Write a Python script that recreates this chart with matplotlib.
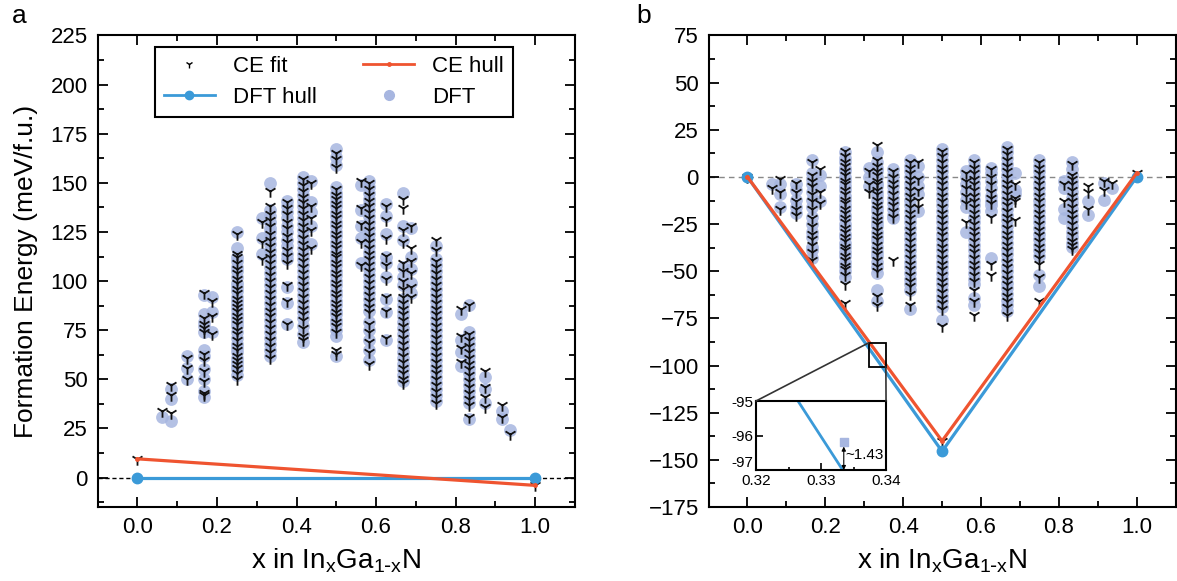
import numpy as np
import matplotlib
matplotlib.use("Agg")
import matplotlib.pyplot as plt
from matplotlib.lines import Line2D
from matplotlib.patches import Rectangle, ConnectionPatch
from matplotlib.ticker import MultipleLocator

# In_xGa_(1-x)N compositions enumerated by the cluster expansion
comps = [0.0625, 0.0833, 0.125, 0.1667, 0.1875, 0.25, 0.3125, 0.3333, 0.375,
         0.4167, 0.4375, 0.5, 0.5625, 0.5833, 0.625, 0.6667, 0.6875, 0.75,
         0.8125, 0.8333, 0.875, 0.9167, 0.9375]

# panel a: formation energies (meV/f.u.), one list per composition
a_dft = [
    [31],
    [45, 40, 29],
    [62, 56, 50],
    [93, 83, 79, 77, 74, 65, 62, 55, 50, 44, 41],
    [92, 84, 74],
    [125, 117, 112, 110, 107, 105, 102, 99, 97, 95, 92, 90, 88, 86, 83, 81, 79, 77, 74, 71, 68, 66, 64, 61, 59, 57, 55, 52],
    [132, 122, 114],
    [150, 136, 133, 130, 127, 125, 122, 119, 116, 113, 110, 107, 104, 101, 98, 95, 92, 89, 86, 83, 80, 77, 74, 71, 68, 65, 62],
    [141, 138, 135, 132, 128, 125, 121, 118, 114, 111, 97, 89, 78],
    [153, 150, 147, 144, 141, 138, 135, 132, 129, 126, 123, 120, 117, 114, 111, 108, 105, 102, 99, 96, 93, 90, 87, 84, 81, 77, 73, 69],
    [151, 140, 135, 128, 119],
    [167, 163, 159, 148, 145, 143, 140, 138, 135, 133, 130, 128, 125, 123, 120, 118, 115, 113, 110, 108, 105, 103, 100, 98, 95, 93, 90, 88, 85, 83, 80, 78, 75, 72, 62],
    [149, 136, 128, 122, 109],
    [151, 148, 145, 142, 139, 136, 133, 130, 127, 124, 121, 118, 115, 112, 109, 106, 103, 100, 97, 94, 91, 88, 85, 79, 75, 70, 65, 60],
    [139, 133, 124, 112, 109, 102, 91, 84, 70],
    [145, 128, 121, 107, 102, 98, 91, 88, 85, 82, 79, 76, 73, 70, 67, 64, 61, 58, 55, 52, 49],
    [127, 112, 106, 99, 94],
    [118, 111, 108, 105, 102, 99, 96, 93, 90, 87, 84, 81, 78, 75, 72, 69, 66, 63, 60, 57, 54, 51, 48, 45, 42, 39],
    [83, 70, 64, 57],
    [88, 74, 71, 68, 65, 62, 59, 56, 53, 50, 47, 44, 41, 38, 30],
    [51, 45, 38],
    [34, 30],
    [24],
]
a_ce = [
    [34],
    [47, 42, 33],
    [61, 56, 50],
    [94, 81, 78, 76, 74, 63, 60, 54, 49, 43, 42],
    [90, 82, 73],
    [124, 114, 112, 109, 106, 104, 101, 99, 96, 94, 91, 89, 87, 85, 82, 80, 78, 75, 73, 70, 67, 65, 62, 60, 58, 56, 53, 50],
    [130, 120, 111],
    [146, 138, 134, 131, 128, 124, 121, 118, 115, 112, 109, 106, 103, 100, 97, 94, 91, 88, 85, 82, 79, 76, 73, 70, 67, 64, 61],
    [140, 137, 134, 130, 127, 123, 120, 116, 113, 109, 98, 90, 78],
    [152, 149, 146, 143, 140, 137, 134, 131, 128, 125, 122, 119, 116, 113, 110, 107, 104, 101, 98, 95, 92, 89, 86, 83, 80, 76, 72, 70],
    [150, 138, 132, 126, 117],
    [165, 162, 158, 147, 144, 142, 139, 137, 134, 132, 129, 127, 124, 122, 119, 117, 114, 112, 109, 107, 104, 102, 99, 97, 94, 92, 89, 87, 84, 82, 79, 77, 74, 65, 63],
    [151, 137, 129, 120, 108],
    [150, 147, 144, 141, 138, 135, 132, 129, 126, 123, 120, 117, 114, 111, 108, 105, 102, 99, 96, 93, 90, 87, 84, 78, 74, 69, 64, 58],
    [138, 131, 122, 113, 108, 101, 92, 85, 71],
    [142, 137, 126, 120, 109, 105, 100, 96, 92, 89, 86, 83, 80, 77, 74, 71, 68, 65, 62, 59, 56, 53, 50, 48],
    [128, 117, 110, 104, 97, 92],
    [121, 116, 110, 107, 104, 101, 98, 95, 92, 89, 86, 83, 80, 77, 74, 71, 68, 65, 62, 59, 56, 53, 50, 47, 44, 41, 38],
    [86, 72, 66, 59],
    [88, 73, 70, 67, 64, 61, 58, 55, 52, 49, 46, 43, 40, 37, 31],
    [54, 46, 41, 36],
    [37, 31],
    [22],
]

# panel b: energies relative to the end members (meV/f.u.)
b_dft = [
    [-4],
    [-4, -9, -16],
    [-4, -7, -12, -16, -19],
    [9, 2, -1, -4, -8, -12, -16, -21, -25, -29, -32, -37, -39, -43],
    [1, -5, -13],
    [13, 10, 8, 5, 3, 0, -2, -5, -7, -10, -12, -15, -17, -20, -22, -25, -27, -30, -32, -35, -37, -40, -42, -45, -47, -50, -53],
    [5, 0, -5],
    [13, 8, 5, 3, 0, -3, -5, -8, -10, -13, -16, -18, -21, -24, -26, -29, -32, -34, -37, -40, -42, -45, -48, -51, -60, -66],
    [4, 1, -2, -5, -8, -11, -14, -17, -20, -22],
    [9, 6, 3, 0, -3, -6, -9, -12, -15, -18, -21, -24, -27, -30, -33, -36, -39, -42, -45, -48, -51, -54, -57, -60, -70],
    [6, 0, -5, -9, -18],
    [15, 12, 9, 6, 3, 0, -3, -6, -9, -12, -15, -18, -21, -24, -27, -30, -33, -36, -39, -42, -45, -48, -51, -54, -57, -60, -63, -66, -69, -76],
    [3, 0, -4, -8, -12, -16, -29],
    [9, 6, 3, 0, -3, -6, -9, -12, -15, -18, -21, -24, -27, -30, -33, -36, -39, -42, -45, -48, -51, -54, -57, -64, -68],
    [5, 2, -2, -6, -10, -13, -15, -18, -43],
    [16, 13, 10, 7, 4, 1, -2, -5, -8, -11, -14, -17, -20, -23, -26, -29, -32, -35, -38, -41, -44, -47, -50, -53, -56, -59, -62, -65, -68, -71],
    [2, -7, -9],
    [9, 6, 3, 0, -3, -6, -9, -12, -15, -18, -21, -24, -27, -30, -33, -36, -39, -42, -52, -58],
    [-2, -6, -17, -22],
    [8, 4, 1, -2, -5, -8, -11, -14, -17, -20, -23, -26, -29, -32, -35, -37],
    [-13, -20],
    [-3, -12],
    [-6],
]
b_ce = [
    [-6],
    [-1, -8, -17],
    [-3, -8, -13, -17, -20],
    [8, 1, -2, -5, -9, -13, -17, -22, -26, -30, -33, -36, -40, -44],
    [4, -8, -14],
    [14, 11, 8, 6, 3, 1, -2, -4, -7, -9, -12, -14, -17, -19, -22, -24, -27, -29, -32, -34, -37, -39, -42, -44, -47, -49, -52, -57, -67],
    [3, -4, -8],
    [17, 9, 6, 3, 1, -2, -4, -7, -9, -12, -15, -17, -20, -23, -25, -28, -31, -33, -36, -39, -41, -44, -47, -50, -63, -68],
    [3, 0, -3, -6, -9, -12, -15, -18, -21, -44],
    [8, 5, 2, -1, -4, -7, -10, -13, -16, -19, -22, -25, -28, -31, -34, -37, -40, -43, -46, -49, -52, -55, -58, -62, -68],
    [8, -1, -7, -12, -16],
    [14, 11, 8, 5, 2, -1, -4, -7, -10, -13, -16, -19, -22, -25, -28, -31, -34, -37, -40, -43, -46, -49, -52, -55, -58, -61, -64, -67, -70, -79],
    [2, -2, -6, -10, -14, -24],
    [8, 5, 2, -1, -4, -7, -10, -13, -16, -19, -22, -25, -28, -31, -34, -37, -40, -43, -46, -49, -52, -55, -60, -66, -73],
    [4, 0, -4, -8, -11, -14, -21, -46, -52],
    [15, 12, 9, 6, 3, 0, -3, -6, -9, -12, -15, -18, -21, -24, -27, -30, -33, -36, -39, -42, -45, -48, -51, -54, -57, -60, -63, -66, -69, -73],
    [-4, -11, -13, -23],
    [8, 5, 2, -1, -4, -7, -10, -13, -16, -19, -22, -25, -28, -31, -34, -37, -40, -43, -46, -53, -66],
    [-4, -13],
    [7, 1, -1, -4, -7, -10, -13, -16, -19, -22, -25, -28, -31, -34, -36, -38],
    [-5, -8, -17],
    [-2, -7],
    [-3],
]

# convex hulls
a_hull_x = [0.0, 1.0]
a_dft_hull = [0.0, 0.0]
a_ce_hull = [9.5, -4.0]
b_hull_x = [0.0, 0.5, 1.0]
b_dft_hull = [0.0, -145.5, 0.0]
b_ce_hull = [0.0, -140.0, 2.0]

# zoomed structure near x = 1/3
inset_x = 0.3335
inset_dft = -96.2
inset_gap = "~1.43"

RED = "#ef5430"
BLUE = "#3b9ad8"
DOT = "#a7b6e0"

plt.rcParams["font.family"] = ["Liberation Sans", "DejaVu Sans"]
plt.rcParams["axes.linewidth"] = 1.5


def flatten(groups):
    xs = np.concatenate([[c] * len(g) for c, g in zip(comps, groups)])
    ys = np.concatenate([np.asarray(g, float) for g in groups])
    return xs, ys


def style(ax):
    ax.tick_params(which="both", direction="in", top=True, right=True,
                   width=1.3, labelsize=16)
    ax.tick_params(which="major", length=7, pad=7)
    ax.tick_params(which="minor", length=4)
    ax.xaxis.set_major_locator(MultipleLocator(0.2))
    ax.xaxis.set_minor_locator(MultipleLocator(0.1))
    ax.yaxis.set_major_locator(MultipleLocator(25))
    ax.yaxis.set_minor_locator(MultipleLocator(12.5))
    ax.set_xlim(-0.1, 1.1)
    ax.set_xlabel(r"x in In$_{\mathregular{x}}$Ga$_{\mathregular{1\text{-}x}}$N",
                  fontsize=20, labelpad=6)


def draw(ax, dft, ce, hx, hdft, hce):
    dx, dy = flatten(dft)
    cx, cy = flatten(ce)
    ax.scatter(dx, dy, s=85, color=DOT, alpha=0.85, linewidths=0, zorder=2)
    ax.scatter(np.r_[cx, hx], np.r_[cy, hce], s=80, marker="1",
               color="#111111", linewidths=1.3, zorder=3)
    ax.plot(hx, hdft, "-o", color=BLUE, lw=2.3, ms=7.5, zorder=4)
    ax.plot(hx, hce, marker=".", color=RED, lw=2.3, ms=5, zorder=5)


fig = plt.figure(figsize=(11.77, 5.81), dpi=100)
ax_a = fig.add_axes([0.083, 0.1274, 0.4054, 0.8115])
ax_b = fig.add_axes([0.602, 0.1274, 0.3968, 0.8115])

# panel a
ax_a.axhline(0, color="black", lw=1, ls=(0, (3, 2)), zorder=1)
draw(ax_a, a_dft, a_ce, a_hull_x, a_dft_hull, a_ce_hull)
style(ax_a)
ax_a.set_ylim(-15, 225)
ax_a.set_ylabel("Formation Energy (meV/f.u.)", fontsize=19, labelpad=9)

handles = [
    Line2D([], [], marker="1", color="black", ls="none", ms=6, mew=1.0),
    Line2D([], [], marker="o", color=BLUE, lw=2, ms=6),
    Line2D([], [], marker=".", color=RED, lw=2, ms=5),
    Line2D([], [], marker="o", color=DOT, ls="none", ms=7),
]
labels = ["CE fit", "DFT hull", "CE hull", "DFT"]
leg = ax_a.legend(handles, labels, ncol=2, loc="upper left",
                  bbox_to_anchor=(0.12, 0.975), borderaxespad=0, fontsize=16,
                  frameon=True, fancybox=False, framealpha=1, edgecolor="black",
                  handlelength=2.3, handletextpad=0.8, columnspacing=2.1,
                  labelspacing=0.45, borderpad=0.4)
leg.get_frame().set_linewidth(1.5)

# panel b
ax_b.axhline(0, color="#888888", lw=1, ls=(0, (4, 3)), zorder=1)
draw(ax_b, b_dft, b_ce, b_hull_x, b_dft_hull, b_ce_hull)
style(ax_b)
ax_b.set_ylim(-175, 75)

# zoom box and inset
box = Rectangle((0.312, -100.6), 0.0436, 12.7, fill=False, ec="black",
                lw=1.3, zorder=6)
ax_b.add_patch(box)

ax_in = fig.add_axes([0.6423, 0.191, 0.1105, 0.1188])
ax_in.plot(b_hull_x, b_dft_hull, color=BLUE, lw=2)
ax_in.scatter([inset_x], [inset_dft], marker="s", s=36, color=DOT, zorder=3)
ax_in.annotate("", xy=(inset_x, -97.0), xytext=(inset_x, inset_dft - 0.12),
               arrowprops=dict(arrowstyle="<|-|>", color="black", lw=0.8,
                               mutation_scale=6, shrinkA=0, shrinkB=0))
ax_in.text(inset_x + 0.0003, -96.56, inset_gap, fontsize=11, va="center")
ax_in.set_xlim(0.32, 0.34)
ax_in.set_ylim(-97, -95)
ax_in.set_xticks([0.32, 0.33, 0.34])
ax_in.set_xticklabels(["0.32", "0.33", "0.34"])
ax_in.set_yticks([-97, -96, -95])
ax_in.set_yticklabels(["-97", "-96", "-95"])
ax_in.xaxis.set_minor_locator(MultipleLocator(0.005))
ax_in.tick_params(which="both", direction="in", labelsize=11, width=1.2)
ax_in.tick_params(axis="x", pad=3)
ax_in.tick_params(axis="y", pad=2)
ax_in.tick_params(which="major", length=5)
ax_in.tick_params(which="minor", length=2.5)
ax_in.get_yticklabels()[0].set_verticalalignment("bottom")

for xa, xb in [((0.312, -87.9), (0, 1)), ((0.3556, -100.6), (1, 1))]:
    con = ConnectionPatch(xyA=xa, coordsA=ax_b.transData, xyB=xb,
                          coordsB=ax_in.transAxes, color="#333333", lw=1.2)
    fig.add_artist(con)

fig.text(0.010, 0.972, "a", fontsize=19, va="center")
fig.text(0.541, 0.972, "b", fontsize=19, va="center")

fig.savefig("out.png", dpi=100)
